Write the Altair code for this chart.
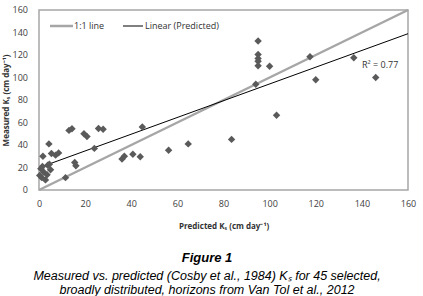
import altair as alt
import pandas as pd

predicted = [95, 95, 95, 95, 95, 100, 94, 117.5, 120, 136.5, 146, 103, 83.5, 64.7, 56.2,
             44.8, 43.9, 40.7, 37, 36, 24, 25.8, 27.8, 19.5, 20.8, 13, 14.3, 15.5, 16, 11.5,
             4.3, 5.4, 7.2, 8.5, 0.3, 1.7, 1.5, 2, 2.8, 3.8, 3.5, 5, 4.5, 0.8, 1.2]
measured = [132.5, 120.5, 117, 114.5, 110.5, 110, 94, 118.5, 98, 117.5, 100, 66.5, 45, 41, 35.3,
            56, 29.5, 31.8, 30, 27.5, 37, 54.6, 54, 50, 47.5, 53, 54.5, 24.5, 21.5, 11,
            41, 32.5, 31, 33, 13, 30, 21, 16, 9, 22, 13.5, 18, 23, 19, 11]
one_to_one_x = [0, 160]
one_to_one_y = [0, 160]
axis_ticks = [0, 20, 40, 60, 80, 100, 120, 140, 160]

df = pd.DataFrame({"pred": predicted, "meas": measured})
line_df = pd.DataFrame({"pred": one_to_one_x, "meas": one_to_one_y})
tick_df = pd.DataFrame({"meas": axis_ticks})

FONT = "Liberation Sans"
LBL = "#404040"

xs = alt.Scale(domain=[0, 160], nice=False, zero=True)
ys = alt.Scale(domain=[0, 160], nice=False, zero=True)

xax = alt.Axis(values=axis_ticks, grid=False, ticks=False, domain=False, labelPadding=9,
               labelOverlap=False, labelFlush=False, labelBound=False,
               labelFontSize=9, labelColor=LBL, labelFont="Open Sans",
               title="Predicted Kₛ (cm day⁻¹)", titleFontSize=8, titleFont="Open Sans",
               titleFontWeight="bold", titleColor="#333333", titlePadding=14)
yax = alt.Axis(values=axis_ticks, grid=False, ticks=False, domain=False, labels=False,
               title="Measured Kₛ (cm day⁻¹)", titleFontSize=8, titleFont="Open Sans",
               titleFontWeight="bold", titleColor="#333333", titlePadding=29)

X = alt.X("pred:Q", scale=xs, axis=xax)
Y = alt.Y("meas:Q", scale=ys, axis=yax)

one = alt.Chart(line_df).mark_line(color="#a6a6a6", strokeWidth=2.5).encode(x=X, y=Y)

fit = alt.Chart(df).transform_regression("pred", "meas", extent=[0, 160]).mark_line(
    color="black", strokeWidth=1).encode(x=X, y=Y)

pts = alt.Chart(df).mark_point(shape="diamond", filled=True, color="#5a5a5a", size=55,
                               opacity=1).encode(x=X, y=Y)

ylabels = alt.Chart(tick_df).mark_text(
    align="right", baseline="middle", fontSize=9, font="Open Sans", color=LBL,
    clip=False).encode(
    x=alt.value(-11), y=Y, text=alt.Text("meas:Q", format="d"))

def txt(s, x, y, size=9, weight="normal", style="normal", font="Open Sans", align="left",
        color="#333333"):
    return alt.Chart(pd.DataFrame({"t": [s]})).mark_text(
        align=align, baseline="middle", fontSize=size, fontWeight=weight, fontStyle=style,
        font=font, color=color).encode(x=alt.value(x), y=alt.value(y), text="t:N")

leg1 = alt.Chart(pd.DataFrame({"t": ["a"]})).mark_rule(color="#a6a6a6", strokeWidth=2.5).encode(
    x=alt.value(11), x2=alt.value(34), y=alt.value(16))
leg2 = alt.Chart(pd.DataFrame({"t": ["a"]})).mark_rule(color="black", strokeWidth=1).encode(
    x=alt.value(84), x2=alt.value(104), y=alt.value(16))

layers = [one, fit, pts, leg1, leg2,
          txt("1:1 line", 35, 16),
          txt("Linear (Predicted)", 106, 16),
          txt("R² = 0.77", 323, 55),
          txt("Figure 1", 168, 248, size=13, weight="bold", style="italic", font=FONT,
              align="center", color="black"),
          txt("Measured vs. predicted (Cosby et al., 1984) Kₛ for 45 selected,", 168, 266,
              size=12.5, style="italic", font=FONT, align="center", color="black"),
          txt("broadly distributed, horizons from Van Tol et al., 2012", 168, 280,
              size=12.5, style="italic", font=FONT, align="center", color="black"),
          ylabels]

chart = alt.layer(*layers).properties(
    width=369, height=180, autosize="none",
    padding={"left": 39, "top": 10, "right": 15, "bottom": 106},
    background="white"
).configure_view(stroke="#a6a6a6", strokeWidth=1.5)

chart.save("out.html", embed_options={"renderer": "svg", "actions": False})
